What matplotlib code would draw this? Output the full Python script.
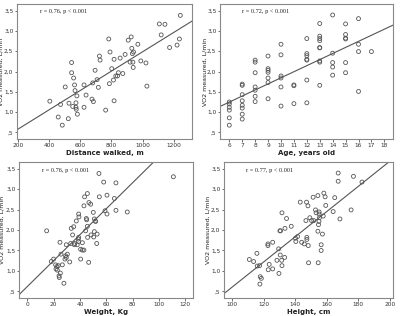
import numpy as np
from matplotlib import pyplot as plt

# Distance walked (m) vs VO2
dist_x = [404, 473, 458, 484, 503, 523, 527, 544, 544, 551, 557, 563, 566, 572, 572, 574,
          581, 578, 624, 624, 637, 675, 684, 695, 680, 708, 716, 723, 727, 763, 787, 783,
          791, 802, 813, 817, 817, 828, 839, 845, 856, 873, 888, 908, 920, 927, 931, 935,
          938, 942, 940, 970, 989, 1022, 1028, 1108, 1120, 1144, 1174, 1222, 1237, 1243]
dist_y = [1.27, 1.19, 0.88, 0.68, 1.62, 0.84, 1.22, 2.22, 1.97, 1.14, 1.84, 1.67, 1.53, 1.23, 1.12, 1.07,
          0.95, 1.40, 1.12, 1.67, 1.42, 1.32, 1.26, 2.03, 1.72, 1.80, 1.61, 2.38, 2.28, 1.05, 1.70, 2.80,
          2.48, 2.07, 1.79, 2.30, 1.28, 1.89, 1.89, 1.97, 2.33, 1.95, 2.42, 2.77, 2.23, 2.85, 2.57, 2.44,
          2.23, 2.48, 2.10, 2.67, 2.26, 2.21, 1.64, 3.17, 2.90, 3.16, 2.59, 2.65, 2.80, 3.38]

# Age (years) vs VO2
age_x = [6, 6, 6, 6, 6, 6,
         7, 7, 7, 7, 7, 7, 7, 7,
         8, 8, 8, 8, 8, 8, 8,
         9, 9, 9, 9, 9, 9, 9,
         10, 10, 10, 10, 10, 10,
         11, 11, 11,
         12, 12, 12, 12, 12, 12, 12,
         13, 13, 13, 13, 13, 13, 13, 13, 13,
         14, 14, 14, 14, 14,
         15, 15, 15, 15, 15, 15,
         16, 16, 16, 16,
         17]
age_y = [1.25, 1.20, 1.12, 1.05, 0.86, 0.68,
         1.69, 1.66, 1.43, 1.28, 1.17, 1.10, 0.95, 0.83,
         2.28, 2.23, 1.97, 1.62, 1.54, 1.39, 1.26,
         2.38, 2.07, 2.03, 1.98, 1.84, 1.73, 1.33,
         2.67, 2.41, 1.89, 1.84, 1.62, 1.15,
         1.67, 1.65, 1.21,
         2.81, 2.44, 2.39, 2.30, 2.28, 1.79, 1.23,
         3.18, 2.87, 2.81, 2.76, 2.59, 2.58, 2.26, 2.23, 1.66,
         3.39, 2.45, 2.22, 2.11, 1.91,
         3.17, 2.91, 2.82, 2.80, 2.22, 1.97,
         3.30, 2.67, 2.49, 1.51,
         2.49]

# Weight (kg) vs VO2
wt_x = [14.7, 18.2, 20.0, 21.5, 21.8, 22.5, 22.8, 23.5, 24.1, 24.3, 25.1, 24.8, 25.6, 26.6, 27.8,
        28.6, 29.1, 29.6, 30.4, 29.6, 32.2, 32.9, 33.4, 34.4, 35.2, 35.7, 36.0, 37.2, 37.9, 38.7,
        38.9, 39.0, 39.2, 39.0, 40.5, 40.5, 41.8, 41.8, 43.0, 43.0, 43.5, 44.3, 44.8, 45.1, 45.6,
        45.6, 45.8, 46.6, 46.8, 48.1, 48.4, 50.1, 50.4, 50.9, 50.9, 51.6, 51.9, 52.7, 53.0, 54.4,
        54.7, 58.0, 59.0, 60.5, 60.5, 66.1, 67.3, 67.3, 75.9, 110.9]
wt_y = [1.98, 1.23, 1.29, 1.15, 1.05, 1.11, 1.02, 1.13, 0.88, 0.84, 0.95, 1.70, 1.41, 1.15, 0.70,
        1.29, 1.37, 1.64, 1.41, 1.33, 1.22, 1.67, 2.04, 1.88, 2.08, 1.64, 1.67, 2.22, 1.64, 1.78,
        1.72, 2.39, 2.32, 1.82, 1.29, 1.53, 1.69, 1.51, 1.51, 2.59, 2.81, 1.98, 2.28, 2.25, 2.89,
        2.09, 1.82, 1.21, 2.67, 2.63, 1.88, 2.43, 1.83, 1.96, 2.27, 2.22, 2.21, 1.67, 1.90, 3.38,
        2.81, 3.17, 2.47, 2.85, 2.39, 2.77, 3.15, 2.48, 2.44, 3.30]

# Height (cm) vs VO2
ht_x = [110.8, 113.5, 115.6, 115.8, 117.3, 117.7, 118.4, 117.5, 122.6, 122.6, 122.8, 123.4, 125.6,
        125.6, 128.3, 129.4, 129.6, 130.2, 130.6, 130.4, 131.3, 131.5, 131.5, 133.2, 133.4, 134.4,
        137.4, 140.1, 140.3, 141.4, 143.1, 144.0, 145.7, 146.7, 147.1, 147.3, 147.3, 148.0, 148.2,
        148.4, 149.2, 150.3, 151.3, 151.7, 152.8, 153.2, 154.3, 154.3, 154.5, 154.7, 155.0, 155.1,
        155.1, 155.3, 156.4, 156.4, 157.2, 157.7, 158.1, 158.9, 159.3, 164.0, 165.0, 167.2, 167.2,
        168.3, 176.9, 175.4, 182.3]
ht_y = [1.28, 1.23, 1.43, 1.12, 1.13, 0.86, 0.82, 0.68, 1.66, 1.62, 1.03, 1.16, 1.70,
        1.05, 1.26, 1.54, 0.94, 1.98, 1.98, 1.39, 1.26, 1.13, 2.42, 1.33, 2.04, 2.28,
        2.09, 1.80, 1.72, 1.84, 2.68, 1.70, 1.66, 2.23, 2.68, 1.82, 1.77, 2.59, 1.62,
        1.20, 2.30, 2.23, 2.80, 2.23, 2.49, 2.42, 2.84, 1.97, 1.20, 2.13, 2.21, 2.44,
        2.39, 2.30, 1.64, 1.50, 1.90, 2.34, 2.90, 2.81, 2.60, 2.45, 2.79, 3.39, 3.19,
        2.27, 3.31, 2.49, 3.17]

# fit lines (intercept, slope)
fits = [(0.109, 0.002375), (0.351, 0.1494), (0.619, 0.0317), (-2.46, 0.0307)]
notes = ["r = 0.76, p < 0.001", "r = 0.72, p < 0.001", "r = 0.76, p < 0.001", "r = 0.77, p < 0.001"]
xlabels = ["Distance walked, m", "Age, years old", "Weight, Kg", "Height, cm"]
yticks = [0.5, 1.0, 1.5, 2.0, 2.5, 3.0, 3.5]
ytick_labels = [",5", "1,0", "1,5", "2,0", "2,5", "3,0", "3,5"]

panels = [
    (dist_x, dist_y, (193, 1318), [200, 400, 600, 800, 1000, 1200]),
    (age_x, age_y, (5.28, 18.67), list(range(6, 19))),
    (wt_x, wt_y, (-6.3, 125.8), [0, 20, 40, 60, 80, 100, 120]),
    (ht_x, ht_y, (94.7, 202), [100, 120, 140, 160, 180, 200]),
]

# axes boxes in pixels: left, top, right, bottom
boxes = [(17, 4, 192, 139), (220, 4, 393, 139), (19, 162, 193, 298), (224, 162, 393, 298)]
# x pixel where the y label is centred
ylab_px = [4, 207, 5, 210]
W, H = 400, 316

fig = plt.figure(figsize=(4.0, 3.16), dpi=100)

for i, (xs, ys, xlim, xt) in enumerate(panels):
    l, t, r, b = boxes[i]
    ax = fig.add_axes([l / W, 1 - b / H, (r - l) / W, (b - t) / H])
    ax.scatter(xs, ys, s=8, facecolors='none', edgecolors='#555555', linewidths=0.6, zorder=3)
    a, k = fits[i]
    ax.axline((0, a), slope=k, color='#555555', linewidth=0.8, zorder=2)
    ax.set_xlim(*xlim)
    ax.set_ylim(0.34, 3.66)
    ax.set_xticks(xt)
    ax.set_yticks(yticks)
    ax.set_yticklabels(ytick_labels)
    ax.tick_params(labelsize=4.2, length=1.8, width=0.5, pad=0.8, colors='#333333')
    for sp in ax.spines.values():
        sp.set_color('#888888')
        sp.set_linewidth(0.8)
    ax.set_xlabel(xlabels[i], fontsize=5, fontweight='bold', labelpad=1.5, color='#222222')
    ax.set_ylabel("VO2 measured, L/min", fontsize=4.5, color='#222222')
    ax.yaxis.set_label_coords((ylab_px[i] - l) / (r - l), 0.5)
    ax.text(0.13, 0.93, notes[i], transform=ax.transAxes, fontsize=4.5,
            family='Liberation Serif', color='#222222')

fig.savefig("out.png", dpi=100)
